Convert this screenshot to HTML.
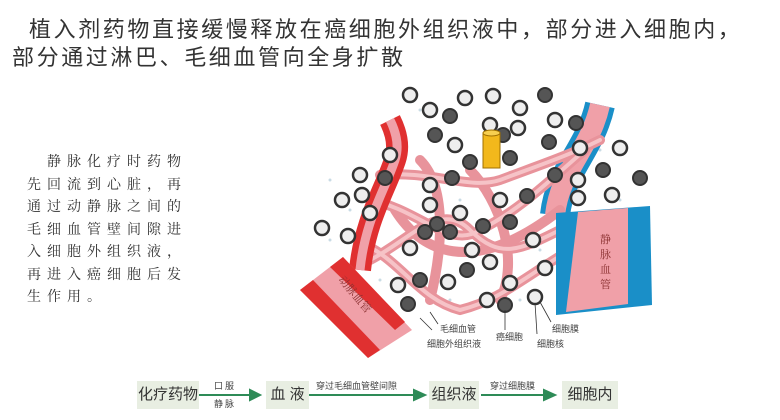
<!DOCTYPE html>
<html><head><meta charset="utf-8"><style>
body{margin:0;width:780px;height:420px;background:#fff;overflow:hidden;position:relative;font-family:"Liberation Sans","Noto Sans CJK SC",sans-serif;}
.t{position:absolute;font-size:22px;color:#333;letter-spacing:2.6px;white-space:nowrap}
.l{position:absolute;left:27px;top:152px;font-family:"Liberation Serif","Noto Serif CJK SC",serif;font-size:14px;line-height:22.5px;letter-spacing:6px;color:#333;width:170px;text-indent:20px}
.b{position:absolute;background:#e8eee2;font-size:15px;color:#333;height:28px;line-height:28px;text-align:center;white-space:nowrap}
.s{position:absolute;font-size:9px;color:#444;white-space:nowrap}
</style></head><body>
<div class="t" style="left:29px;top:12px">植入剂药物直接缓慢释放在癌细胞外组织液中，部分进入细胞内，</div>
<div class="t" style="left:12px;top:40px">部分通过淋巴、毛细血管向全身扩散</div>
<div class="l">静脉化疗时药物先回流到心脏，再通过动静脉之间的毛细血管壁间隙进入细胞外组织液，再进入癌细胞后发生作用。</div>
<svg width="780" height="420" style="position:absolute;left:0;top:0">
<g fill="#bcd3df" opacity="0.8">
<circle cx="330" cy="180" r="1.5"/><circle cx="350" cy="210" r="1.5"/><circle cx="420" cy="110" r="1.5"/><circle cx="460" cy="200" r="1.5"/><circle cx="520" cy="300" r="1.5"/><circle cx="600" cy="150" r="1.5"/><circle cx="640" cy="180" r="1.5"/><circle cx="380" cy="280" r="1.5"/><circle cx="450" cy="300" r="1.5"/><circle cx="540" cy="250" r="1.5"/><circle cx="480" cy="250" r="1.5"/><circle cx="410" cy="300" r="1.5"/><circle cx="330" cy="240" r="1.5"/><circle cx="620" cy="200" r="1.5"/>
</g>
<path d="M600,105 C590,150 560,170 555,215" stroke="#1a8fc8" stroke-width="30" fill="none"/>
<path d="M600,105 C590,150 560,170 555,215" stroke="#f0a0a8" stroke-width="20" fill="none"/>
<g fill="none" stroke="#e8939b" stroke-width="10" stroke-linecap="round">
<path d="M370,200 C420,210 450,250 480,230 C520,210 550,180 585,150"/>
<path d="M380,175 C430,170 470,190 500,180 C540,165 570,155 600,140"/>
<path d="M370,260 C410,240 440,200 470,230 C500,260 520,250 560,230"/>
<path d="M365,245 C400,260 420,300 460,310 C500,300 520,280 570,250"/>
<path d="M420,160 C450,190 440,260 430,300"/>
<path d="M470,170 C500,200 520,260 500,300"/>
<path d="M395,210 C420,250 470,280 560,210"/>
</g>
<g fill="none" stroke="#f6c3c7" stroke-width="4" stroke-linecap="round">
<path d="M370,200 C420,210 450,250 480,230 C520,210 550,180 585,150"/>
<path d="M380,175 C430,170 470,190 500,180 C540,165 570,155 600,140"/>
<path d="M370,260 C410,240 440,200 470,230 C500,260 520,250 560,230"/>
<path d="M365,245 C400,260 420,300 460,310 C500,300 520,280 570,250"/>
</g>
<path d="M360,270 C365,220 385,190 395,160 C400,145 395,130 390,120" stroke="#e03030" stroke-width="22" fill="none"/>
<path d="M360,270 C365,220 385,190 395,160 C400,145 395,130 390,120" stroke="#f0a0a8" stroke-width="9" fill="none"/>
<polygon points="300,290 343,257 412,330 368,358" fill="#f0a0a8"/>
<polygon points="300,290 313,280 380,350 368,358" fill="#e03030"/>
<polygon points="330,267 343,257 405,322 395,330" fill="#e03030"/>
<text x="338" y="280" font-size="11" fill="#8a3030" transform="rotate(50 338 280)" font-family="Noto Serif CJK SC,serif">动脉血管</text>
<polygon points="556,213 650,206 652,305 556,315" fill="#1a8fc8"/>
<polygon points="578,212 628,208 628,304 566,312" fill="#f0a0a8"/>
<text font-size="11" fill="#8a3030" font-family="Noto Serif CJK SC,serif"><tspan x="600" y="243">静</tspan><tspan x="600" y="258">脉</tspan><tspan x="600" y="273">血</tspan><tspan x="600" y="288">管</tspan></text>
<g stroke="#333" stroke-width="2.5" fill="#eee">
<circle cx="410" cy="95" r="7"/><circle cx="465" cy="98" r="7"/><circle cx="493" cy="96" r="7"/><circle cx="430" cy="110" r="7"/><circle cx="520" cy="108" r="7"/><circle cx="555" cy="120" r="7"/><circle cx="490" cy="125" r="7"/><circle cx="518" cy="128" r="7"/><circle cx="455" cy="145" r="7"/><circle cx="390" cy="155" r="7"/><circle cx="360" cy="175" r="7"/><circle cx="362" cy="195" r="7"/><circle cx="342" cy="200" r="7"/><circle cx="370" cy="213" r="7"/><circle cx="322" cy="228" r="7"/><circle cx="348" cy="236" r="7"/><circle cx="430" cy="185" r="7"/><circle cx="430" cy="205" r="7"/><circle cx="460" cy="213" r="7"/><circle cx="500" cy="200" r="7"/><circle cx="580" cy="148" r="7"/><circle cx="578" cy="180" r="7"/><circle cx="578" cy="198" r="7"/><circle cx="612" cy="195" r="7"/><circle cx="620" cy="148" r="7"/><circle cx="410" cy="248" r="7"/><circle cx="472" cy="250" r="7"/><circle cx="490" cy="262" r="7"/><circle cx="533" cy="240" r="7"/><circle cx="545" cy="268" r="7"/><circle cx="398" cy="285" r="7"/><circle cx="448" cy="282" r="7"/><circle cx="487" cy="300" r="7"/><circle cx="535" cy="297" r="7"/><circle cx="510" cy="283" r="7"/>
</g>
<g stroke="#333" stroke-width="2" fill="#555">
<circle cx="450" cy="116" r="7"/><circle cx="545" cy="95" r="7"/><circle cx="576" cy="123" r="7"/><circle cx="503" cy="135" r="7"/><circle cx="435" cy="135" r="7"/><circle cx="549" cy="142" r="7"/><circle cx="470" cy="162" r="7"/><circle cx="510" cy="158" r="7"/><circle cx="452" cy="178" r="7"/><circle cx="437" cy="224" r="7"/><circle cx="450" cy="232" r="7"/><circle cx="425" cy="232" r="7"/><circle cx="483" cy="226" r="7"/><circle cx="510" cy="222" r="7"/><circle cx="527" cy="196" r="7"/><circle cx="603" cy="170" r="7"/><circle cx="640" cy="178" r="7"/><circle cx="467" cy="270" r="7"/><circle cx="420" cy="280" r="7"/><circle cx="505" cy="305" r="7"/><circle cx="408" cy="304" r="7"/><circle cx="385" cy="178" r="7"/><circle cx="555" cy="175" r="7"/>
</g>
<rect x="483" y="133" width="17" height="35" fill="#f2b81c" stroke="#a07000"/>
<ellipse cx="491.5" cy="133" rx="8.5" ry="3" fill="#f7cf50" stroke="#a07000"/>
<g stroke="#333" stroke-width="0.8">
<line x1="420" y1="318" x2="432" y2="330"/><line x1="430" y1="312" x2="438" y2="324"/><line x1="505" y1="310" x2="505" y2="330"/><line x1="535" y1="303" x2="537" y2="334"/><line x1="540" y1="302" x2="551" y2="322"/>
</g>
</svg>
<div class="s" style="left:440px;top:322px">毛细血管</div>
<div class="s" style="left:427px;top:337px">细胞外组织液</div>
<div class="s" style="left:496px;top:330px">癌细胞</div>
<div class="s" style="left:537px;top:337px">细胞核</div>
<div class="s" style="left:552px;top:322px">细胞膜</div>
<div class="b" style="left:137px;top:381px;width:62px">化疗药物</div>
<div class="b" style="left:266px;top:381px;width:43px">血 液</div>
<div class="b" style="left:429px;top:381px;width:50px">组织液</div>
<div class="b" style="left:562px;top:381px;width:56px">细胞内</div>
<svg width="780" height="420" style="position:absolute;left:0;top:0">
<g stroke="#2e8b57" stroke-width="2" fill="#2e8b57">
<line x1="199" y1="395" x2="252" y2="395"/><polygon points="260,395 250,390 250,400"/>
<line x1="309" y1="395" x2="416" y2="395"/><polygon points="425,395 414,390 414,400"/>
<line x1="481" y1="395" x2="546" y2="395"/><polygon points="555,395 544,390 544,400"/>
</g>
<g font-size="9" fill="#444" font-family="Noto Sans CJK SC,sans-serif">
<text x="214" y="389">口 服</text><text x="214" y="407">静 脉</text>
<text x="316" y="389">穿过毛细血管壁间隙</text>
<text x="490" y="389">穿过细胞膜</text>
</g>
</svg>
</body></html>
